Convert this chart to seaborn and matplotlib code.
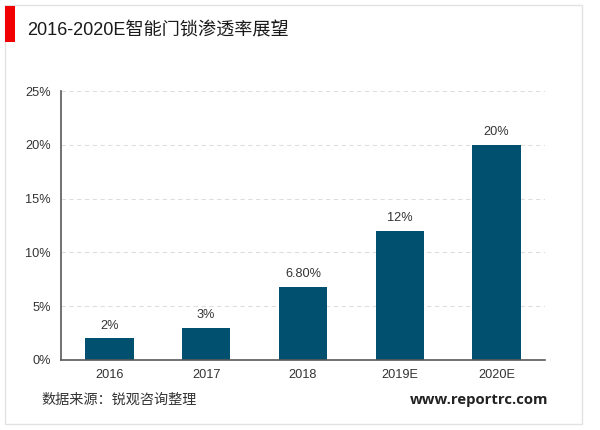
import matplotlib
matplotlib.use("Agg")
import matplotlib.pyplot as plt
from matplotlib.patches import Rectangle
import pandas as pd
import seaborn as sns

years = ["2016", "2017", "2018", "2019E", "2020E"]
rates = [2, 3, 6.8, 12, 20]
rate_labels = ["2%", "3%", "6.80%", "12%", "20%"]
y_ticks = [0, 5, 10, 15, 20, 25]

sns.set_theme(style="white")
plt.rcParams["font.family"] = ["Liberation Sans", "Noto Sans CJK SC"]

W, H = 600, 430
fig = plt.figure(figsize=(W / 100, H / 100), dpi=100, facecolor="white")
ax = fig.add_axes([61 / W, 1 - 360 / H, (545 - 61) / W, (360 - 91) / H])

df = pd.DataFrame({"year": years, "rate": rates})
sns.barplot(data=df, x="year", y="rate", color="#02506F", saturation=1, width=0.5, linewidth=0, ax=ax)

ax.set_ylim(0, 25)
ax.set_xlim(-0.5, 4.5)
ax.set_yticks(y_ticks)
ax.set_yticklabels([f"{v}%" for v in y_ticks])
ax.set_xlabel("")
ax.set_ylabel("")
ax.yaxis.grid(True, color="#DEDEDE", linestyle=(0, (4, 3)), linewidth=0.8)
ax.set_axisbelow(True)
ax.tick_params(axis="both", length=0, labelsize=9.2, labelcolor="#333333")
ax.tick_params(axis="y", pad=7.5)
ax.tick_params(axis="x", pad=6.5)

for side in ["top", "right"]:
    ax.spines[side].set_visible(False)
for side in ["left", "bottom"]:
    ax.spines[side].set_color("#595959")
    ax.spines[side].set_linewidth(1.2)

ax.bar_label(ax.containers[0], labels=rate_labels, padding=5, fontsize=9.2, color="#333333")

# frame and red title marker
fig.add_artist(Rectangle((5 / W, 1 - 424 / H), 577 / W, 419 / H, transform=fig.transFigure,
                         fill=False, edgecolor="#E2E2E2", linewidth=1))
fig.add_artist(Rectangle((5 / W, 1 - 42 / H), 10 / W, 36 / H, transform=fig.transFigure,
                         facecolor="#F00000", edgecolor="none"))

fig.text(27 / W, 1 - 31 / H, "2016-2020E智能门锁渗透率展望", fontsize=13.05, color="#1A1A1A", va="center")
fig.text(41 / W, 1 - 400 / H, "数据来源：锐观咨询整理", fontsize=10.2, color="#333333", va="center")
fig.text(548 / W, 1 - 400 / H, "www.reportrc.com", fontsize=10.75, color="#222222", va="center", ha="right",
         fontweight="bold", family=["Open Sans", "DejaVu Sans"])

fig.savefig("out.png", dpi=100)
